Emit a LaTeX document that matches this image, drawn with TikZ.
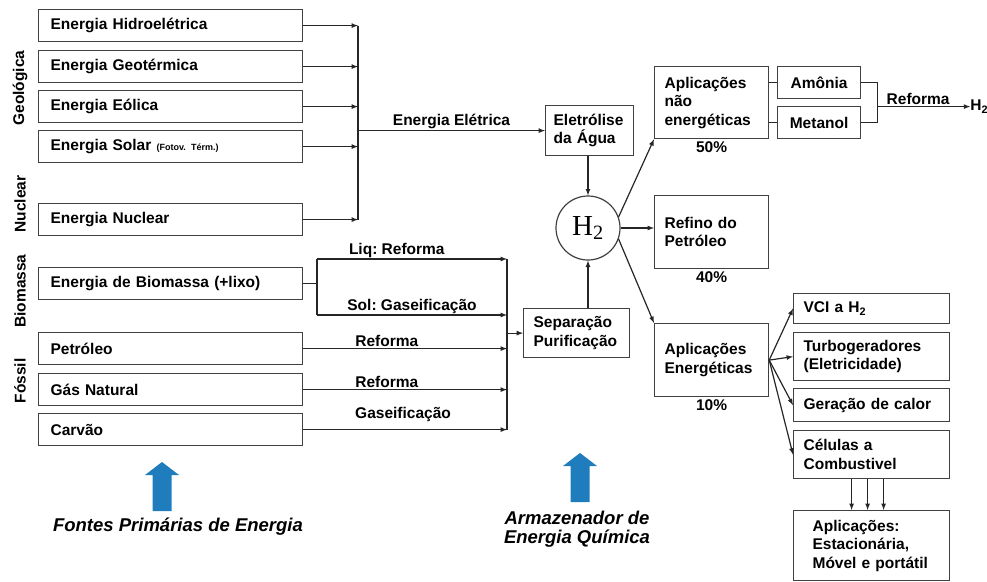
\documentclass[tikz,border=0pt]{standalone}
\usepackage{fontspec}
\setmainfont{Liberation Sans}
\newfontfamily\serifh{Liberation Serif}
\usepackage{tikz}
\usetikzlibrary{arrows,calc,positioning}
\frenchspacing

\begin{document}
\begin{tikzpicture}
	[x=1pt,y=-1pt,>=latex,
	font=\fontsize{15.5}{18.5}\selectfont\bfseries,
	caixa/.style={draw=black!75,line width=1.2pt,rectangle,anchor=north west,align=left,inner ysep=0pt,inner xsep=10pt},
	fio/.style={draw=black!85,line width=1.2pt},
	rot/.style={inner sep=1pt},
	grande/.style={font=\fontsize{18.5}{19}\selectfont\bfseries\itshape},
	azul/.style={fill={rgb,255:red,31;green,125;blue,190}}]
	\useasboundingbox (0,0) rectangle (987,581);
	%FONTES PRIMARIAS
	\foreach \n/\y/\t in {hid/9/Energia Hidroelétrica,geo/50/Energia Geotérmica,eol/90/Energia Eólica,sol/130/{Energia Solar {\fontsize{9}{9}\selectfont(Fotov.\ Térm.)}},nuc/203/Energia Nuclear,bio/267/Energia de Biomassa (+lixo),pet/332/Petróleo,gas/373/Gás Natural,car/413/Carvão}
	\node[caixa,inner xsep=12pt,text width=240pt,minimum height=32pt] (\n) at (38,\y) {\t};
	\foreach \t/\y in {Geológica/88,Nuclear/204,Biomassa/291,Fóssil/381}
	\node[rot,rotate=90] (l\y) at (20,\y) {\t};
	%ENERGIA ELETRICA
	\coordinate (eixo) at (358,0);
	\foreach \n in {hid,geo,eol,sol,nuc}
	\draw[fio,->] (\n.east) -- (\n.east -| eixo);
	\draw[fio] (hid.east -| eixo) -- (nuc.east -| eixo);
	\node[caixa,inner xsep=8pt,text width=72pt,minimum height=50pt] (ele) at (545,105) {Eletrólise\\da Água};
	\draw[fio,->] (ele.west -| eixo) -- node[rot,above] {Energia Elétrica} (ele.west);
	%H2
	\node[circle,draw=black!75,line width=1.2pt,minimum size=64pt,inner sep=0pt,font=\serifh\fontsize{29}{29}\selectfont] (h2) at (588,228) {H\textsubscript{2}};
	\draw[fio,->] (ele.south -| h2) -- (h2.north);
	\node[caixa,text width=86pt,minimum height=49pt] (sep) at (523,308) {Separação\\Purificação};
	\draw[fio,->] (sep.north -| h2) -- (h2.south);
	%BIOMASSA E FOSSIL
	\coordinate (ramo) at (317,0);
	\coordinate (eixob) at (507,0);
	\coordinate (liq) at (317,259);
	\coordinate (sol2) at (317,315);
	\draw[fio] (bio.east) -- (bio.east -| ramo);
	\draw[fio] (liq) -- (sol2);
	\draw[fio,->] (liq) -- node[rot,above,pos=0.42] {Liq: Reforma} (liq -| eixob);
	\draw[fio,->] (sol2) -- node[rot,above,pos=0.5] {Sol: Gaseificação} (sol2 -| eixob);
	\foreach \n/\t/\p/\s in {pet/Reforma/0.41/0,gas/Reforma/0.41/0,car/Gaseificação/0.49/6}
	\draw[fio,->] (\n.east) -- node[rot,above,pos=\p,yshift=\s pt] {\t} (\n.east -| eixob);
	\draw[fio] (liq -| eixob) -- (car.east -| eixob);
	\draw[fio,->] (sep.west -| eixob) -- (sep.west);
	%APLICACOES
	\node[caixa,text width=94pt,minimum height=72pt] (apne) at (654,66) {Aplicações\\não\\energéticas};
	\node[caixa,align=center,text width=63pt,minimum height=32pt] (amo) at (777,66) {Amônia};
	\node[caixa,align=center,text width=63pt,minimum height=32pt] (met) at (777,106) {Metanol};
	\node[caixa,text width=94pt,minimum height=73pt] (ref) at (654,195) {Refino do\\Petróleo};
	\node[caixa,text width=94pt,minimum height=73pt] (apen) at (654,323) {Aplicações\\Energéticas};
	\node[rot,below=1pt] (p50) at (apne.south) {50\%};
	\node[rot,below=1pt] (p40) at (ref.south) {40\%};
	\node[rot,below=1pt] (p10) at (apen.south) {10\%};
	\draw[fio,->] (h2.20) -- (apne.south west);
	\draw[fio,->] (h2.east) -- (h2.east -| ref.west);
	\draw[fio,->] (h2.-20) -- (apen.north west);
	%AMONIA E METANOL
	\draw[fio] (amo.west -| apne.east) -- (amo.west);
	\draw[fio] (met.west -| apne.east) -- (met.west);
	\coordinate (junta) at ($(amo.east)!0.5!(met.east)+(16,4)$);
	\draw[fio] (amo.east) -| (junta) |- (met.east);
	\node[anchor=west,inner sep=0pt] (h2fim) at ($(junta)+(93,0)$) {H\textsubscript{2}};
	\draw[fio,->] (junta) -- node[rot,above,pos=0.44] {Reforma} (h2fim.west);
	%APLICACOES ENERGETICAS
	\foreach \n/\y/\h/\t in {vcl/293/30/{VCI a H\textsubscript{2}},tur/332/48/{Turbogeradores\\(Eletricidade)},ger/388/33/Geração de calor,cel/430/48/{Células a\\Combustivel}}
	\node[caixa,text width=136pt,minimum height=\h pt] (\n) at (793,\y) {\t};
	\node[caixa,inner xsep=19pt,text width=118pt,minimum height=70pt] (apl) at (793,510) {Aplicações:\\Estacionária,\\Móvel e portátil};
	\foreach \n in {vcl,tur,ger,cel}
	\draw[fio,->] (apen.east) -- (\n.west);
	\foreach \d in {-20,-4,12}
	\draw[fio,->] ([xshift=\d pt]cel.south) -- ([xshift=\d pt]apl.north);
	%SETAS AZUIS
	\node[grande] (fontes) at (178,527) {Fontes Primárias de Energia};
	\node[grande,align=center] (armaz) at (577,529) {Armazenador de\\Energia Química};
	\foreach \cx/\cy in {162/462,580/453}
	\fill[azul] (\cx,\cy) -- (\cx+17,\cy+13) -- (\cx+9.5,\cy+13) -- (\cx+9.5,\cy+49) -- (\cx-9.5,\cy+49) -- (\cx-9.5,\cy+13) -- (\cx-17,\cy+13) -- cycle;
\end{tikzpicture}
\end{document}
